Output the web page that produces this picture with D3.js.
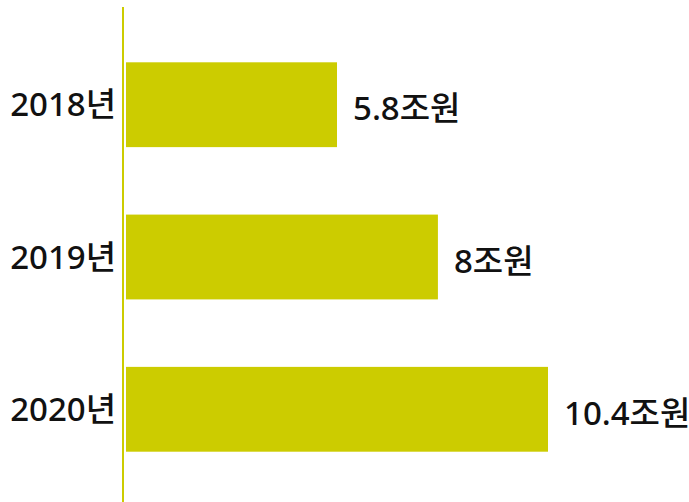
<!DOCTYPE html>
<html>
<head>
<meta charset="utf-8">
<script src="https://cdn.jsdelivr.net/npm/d3@7"></script>
<style>
  html, body { margin: 0; padding: 0; background: #ffffff; }
  svg { display: block; }
  text { font-family: "Noto Sans", "Noto Sans CJK KR", sans-serif; font-weight: 500; fill: #111111; }
</style>
</head>
<body>
<svg id="chart" width="689" height="502"></svg>
<script>
// Annual amounts (unit: 조원)
const years = ["2018년", "2019년", "2020년"];
const amounts = [5.8, 8, 10.4];
const valueLabels = ["5.8조원", "8조원", "10.4조원"];

const width = 689, height = 502;
const barColor = "#cccc00";
const axisX = 123;

const svg = d3.select("#chart");

const y = d3.scaleBand()
  .domain(years)
  .range([9, 505])
  .paddingInner(0.443)
  .paddingOuter(0.35);

const x = d3.scaleLinear()
  .domain([1.2, 10.4])
  .range([126, 548]);

const rows = years.map((yr, i) => ({ year: yr, value: amounts[i], label: valueLabels[i] }));

// bars
svg.selectAll("rect.bar")
  .data(rows)
  .join("rect")
  .attr("class", "bar")
  .attr("x", x.range()[0])
  .attr("y", d => y(d.year))
  .attr("width", d => x(d.value) - x.range()[0])
  .attr("height", y.bandwidth())
  .attr("fill", barColor);

// vertical baseline
svg.append("line")
  .attr("x1", axisX).attr("x2", axisX)
  .attr("y1", 7).attr("y2", height)
  .attr("stroke", barColor)
  .attr("stroke-width", 2);

// category labels
svg.selectAll("text.year")
  .data(rows)
  .join("text")
  .attr("class", "year")
  .attr("x", 116)
  .attr("y", d => y(d.year) + y.bandwidth() / 2)
  .attr("dy", "0.35em")
  .attr("text-anchor", "end")
  .attr("font-size", 33)
  .text(d => d.year);

// value labels
svg.selectAll("text.value")
  .data(rows)
  .join("text")
  .attr("class", "value")
  .attr("x", d => x(d.value) + 16)
  .attr("y", d => y(d.year) + y.bandwidth() / 2 + 4)
  .attr("dy", "0.35em")
  .attr("font-size", 33)
  .text(d => d.label);
</script>
</body>
</html>
